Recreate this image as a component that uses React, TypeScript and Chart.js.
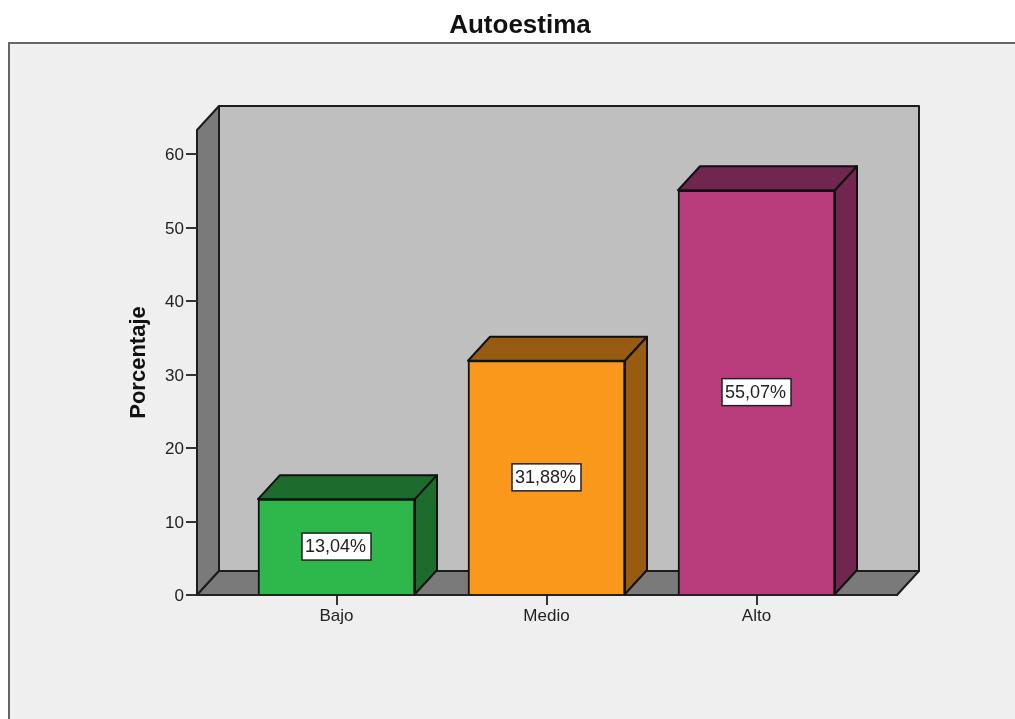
import React, { useEffect, useRef } from "react";
import { Chart, registerables } from "chart.js";

Chart.register(...registerables);

const titleText = "Autoestima";
const yAxisTitle = "Porcentaje";
const categories = ["Bajo", "Medio", "Alto"];
const positions = [1, 2, 3];
const percentages = [13.04, 31.88, 55.07];
const yTickValues = [0, 10, 20, 30, 40, 50, 60];
const faceColors = ["#2EB84C", "#FA981C", "#B93D7D"];
const shadeColors = ["#1D6C2E", "#975B12", "#70264E"];

const DX = 22;
const DY = 24;
const EDGE = "#1c1c1c";

function poly(ctx: CanvasRenderingContext2D, pts: number[][], fill: string, stroke: string, lw: number) {
  ctx.beginPath();
  pts.forEach((p, i) => (i ? ctx.lineTo(p[0], p[1]) : ctx.moveTo(p[0], p[1])));
  ctx.closePath();
  ctx.fillStyle = fill;
  ctx.fill();
  ctx.lineWidth = lw;
  ctx.strokeStyle = stroke;
  ctx.lineJoin = "round";
  ctx.stroke();
}

const scenePlugin = {
  id: "scene",
  beforeDraw(chart: any) {
    const { ctx, chartArea: a } = chart;
    ctx.save();
    ctx.fillStyle = "#ffffff";
    ctx.fillRect(0, 0, chart.width, chart.height);
    ctx.fillStyle = "#EFEFEF";
    ctx.fillRect(9, 43, chart.width, chart.height);
    ctx.strokeStyle = "#666666";
    ctx.lineWidth = 2;
    ctx.beginPath();
    ctx.moveTo(9, chart.height + 2);
    ctx.lineTo(9, 43);
    ctx.lineTo(chart.width + 2, 43);
    ctx.stroke();
    poly(ctx, [[a.left + DX, a.top - DY], [a.right + DX, a.top - DY], [a.right + DX, a.bottom - DY], [a.left + DX, a.bottom - DY]], "#BFBFBF", EDGE, 2);
    poly(ctx, [[a.left, a.top], [a.left + DX, a.top - DY], [a.left + DX, a.bottom - DY], [a.left, a.bottom]], "#7A7A7A", EDGE, 2);
    poly(ctx, [[a.left, a.bottom], [a.left + DX, a.bottom - DY], [a.right + DX, a.bottom - DY], [a.right, a.bottom]], "#7A7A7A", EDGE, 2);
    ctx.restore();
  },
  beforeDatasetsDraw(chart: any) {
    const { ctx } = chart;
    ctx.save();
    chart.getDatasetMeta(0).data.forEach((bar: any, i: number) => {
      const l = bar.x - bar.width / 2;
      const r = bar.x + bar.width / 2;
      const t = bar.y;
      const b = bar.base;
      poly(ctx, [[l, t], [l + DX, t - DY], [r + DX, t - DY], [r, t]], shadeColors[i], "#111111", 2);
      poly(ctx, [[r, t], [r + DX, t - DY], [r + DX, b - DY], [r, b]], shadeColors[i], "#111111", 2);
    });
    ctx.restore();
  },
  afterDatasetsDraw(chart: any) {
    const { ctx } = chart;
    ctx.save();
    ctx.font = '18px "Liberation Sans"';
    ctx.textAlign = "center";
    ctx.textBaseline = "middle";
    chart.getDatasetMeta(0).data.forEach((bar: any, i: number) => {
      const cy = (bar.y + bar.base) / 2;
      const text = percentages[i].toFixed(2).replace(".", ",") + "%";
      ctx.fillStyle = "#ffffff";
      ctx.strokeStyle = "#222222";
      ctx.lineWidth = 1.5;
      ctx.fillRect(bar.x - 34.5, cy - 13.5, 69, 27);
      ctx.strokeRect(bar.x - 34.5, cy - 13.5, 69, 27);
      ctx.fillStyle = "#222222";
      ctx.fillText(text, bar.x - 1, cy + 0.5);
    });
    ctx.restore();
  },
};

export default function App() {
  const ref = useRef<HTMLCanvasElement | null>(null);
  useEffect(() => {
    const chart = new Chart(ref.current as HTMLCanvasElement, {
      type: "bar",
      data: {
        datasets: [
          {
            data: positions.map((x, i) => ({ x, y: percentages[i] })),
            backgroundColor: faceColors,
            borderColor: "#111111",
            borderWidth: 2,
            barThickness: 157,
            clip: false as any,
          },
        ],
      },
      plugins: [scenePlugin as any],
      options: {
        responsive: false,
        animation: false,
        layout: { padding: { left: 25, right: 0, top: 0, bottom: 0 } },
        plugins: {
          legend: { display: false },
          tooltip: { enabled: false },
          title: {
            display: true,
            text: titleText,
            color: "#111111",
            font: { family: '"Liberation Sans"', size: 26, weight: "bold", lineHeight: 1.2 },
            padding: { top: 10, bottom: 88.8 },
          },
        },
        scales: {
          x: {
            type: "linear",
            offset: false,
            min: 0.3357,
            max: 3.669,
            afterBuildTicks(s: any) {
              s.ticks = positions.map((value) => ({ value }));
            },
            afterFit(s: any) {
              s.height = 124;
            },
            grid: { offset: false, drawOnChartArea: false, drawTicks: true, tickLength: 10, color: "#333333", lineWidth: 2 },
            border: { display: true, color: "#222222", width: 2 },
            ticks: {
              autoSkip: false,
              maxRotation: 0,
              padding: 1,
              color: "#222222",
              font: { family: '"Liberation Sans"', size: 17 },
              callback: (v: any) => categories[positions.indexOf(Number(v))] ?? "",
            },
          },
          y: {
            min: 0,
            max: 63.27,
            afterBuildTicks(s: any) {
              s.ticks = yTickValues.map((value) => ({ value }));
            },
            afterFit(s: any) {
              s.width = 172;
            },
            grid: { drawOnChartArea: false, drawTicks: true, tickLength: 11, color: "#333333", lineWidth: 2 },
            border: { display: false },
            ticks: {
              padding: 2,
              labelOffset: 1.5,
              color: "#222222",
              font: { family: '"Liberation Sans"', size: 17 },
            },
            title: {
              display: true,
              text: yAxisTitle,
              color: "#111111",
              font: { family: '"Liberation Sans"', size: 22, weight: "bold", lineHeight: 1.2 },
              padding: { top: 100.5, bottom: 0 },
            },
          },
          yR: {
            type: "linear",
            position: "right",
            display: true,
            afterFit(s: any) {
              s.width = 118;
            },
            grid: { display: false },
            border: { display: false },
            ticks: { display: false },
          },
        },
      } as any,
    });
    return () => chart.destroy();
  }, []);
  return (
    <div style={{ position: "fixed", left: 0, top: 0, width: 1015, height: 719 }}>
      <canvas ref={ref} width={1015} height={719} style={{ display: "block", filter: "blur(0.5px)" }} />
    </div>
  );
}
